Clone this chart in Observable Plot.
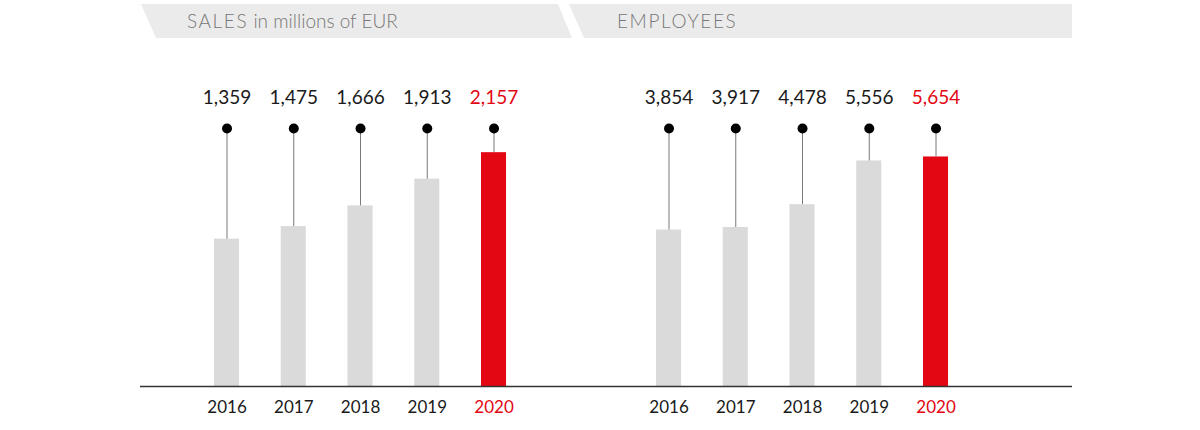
<!DOCTYPE html>
<html><head><meta charset="utf-8">
<script src="https://cdn.jsdelivr.net/npm/d3@7"></script>
<script src="https://cdn.jsdelivr.net/npm/@observablehq/plot@0.6"></script>
<style>
body{margin:0;background:#fff;}
#wrap{position:relative;width:1200px;height:430px;font-family:Lato,sans-serif;}
.band{position:absolute;top:4px;height:34px;background:#ebebeb;}
.ttl{position:absolute;top:11px;font-size:19px;line-height:19px;color:#777;white-space:nowrap;font-weight:300;}
.ttl b{font-weight:300;letter-spacing:1.6px;}
.pl{position:absolute;top:40px;}
</style></head><body>
<div id="wrap">
 <div class="band" style="left:141px;width:431px;clip-path:polygon(0 0,417px 0,431px 100%,15px 100%)"></div>
 <div class="band" style="left:569px;width:503px;clip-path:polygon(0 0,100% 0,100% 100%,15px 100%)"></div>
 <div class="ttl" style="left:187px"><b>SALES</b> in millions of EUR</div>
 <div class="ttl" style="left:617px"><b>EMPLOYEES</b></div>
 <div id="p1" class="pl" style="left:140px"></div>
 <div id="p2" class="pl" style="left:606px"></div>
</div>
<script>
const years = [2016, 2017, 2018, 2019, 2020];
const sales = [1359, 1475, 1666, 1913, 2157];
const employees = [3854, 3917, 4478, 5556, 5654];
const highlightYear = 2020;

const RED = "#e30613";
const GREY = "#dadada";
const fmt = d3.format(",");

function panel(values, yMax, xRange) {
  const data = years.map((year, i) => ({year, value: values[i]}));
  const col = d => d.year === highlightYear ? RED : GREY;
  const txt = d => d.year === highlightYear ? RED : "#1a1a1a";
  return Plot.plot({
    width: 466, height: 390,
    marginTop: 88, marginBottom: 44, marginLeft: 0, marginRight: 0,
    style: {background: "transparent", overflow: "visible", fontFamily: "Lato, sans-serif"},
    x: {domain: years, range: xRange, padding: 0.625, round: false, axis: null},
    y: {domain: [0, yMax], axis: null},
    marks: [
      Plot.barY(data, {x: "year", y: "value", fill: col}),
      Plot.ruleX(data, {x: "year", y1: () => yMax, y2: "value", stroke: "#7a7a7a", strokeWidth: 1}),
      Plot.dot(data, {x: "year", frameAnchor: "top", r: 5, fill: "#000"}),
      Plot.text(data, {x: "year", text: d => fmt(d.value), frameAnchor: "top", lineAnchor: "bottom", dy: -25, fontSize: 19, fill: txt}),
      Plot.text(data, {x: "year", text: d => String(d.year), frameAnchor: "bottom", lineAnchor: "bottom", dy: 26, fontSize: 17, fill: txt}),
      Plot.ruleY([0], {stroke: "#333", strokeWidth: 1.5})
    ]
  });
}

document.getElementById("p1").append(panel(sales, 2380, [32.28, 407.75]));
document.getElementById("p2").append(panel(employees, 6355, [8.28, 383.75]));
</script>
</body></html>
